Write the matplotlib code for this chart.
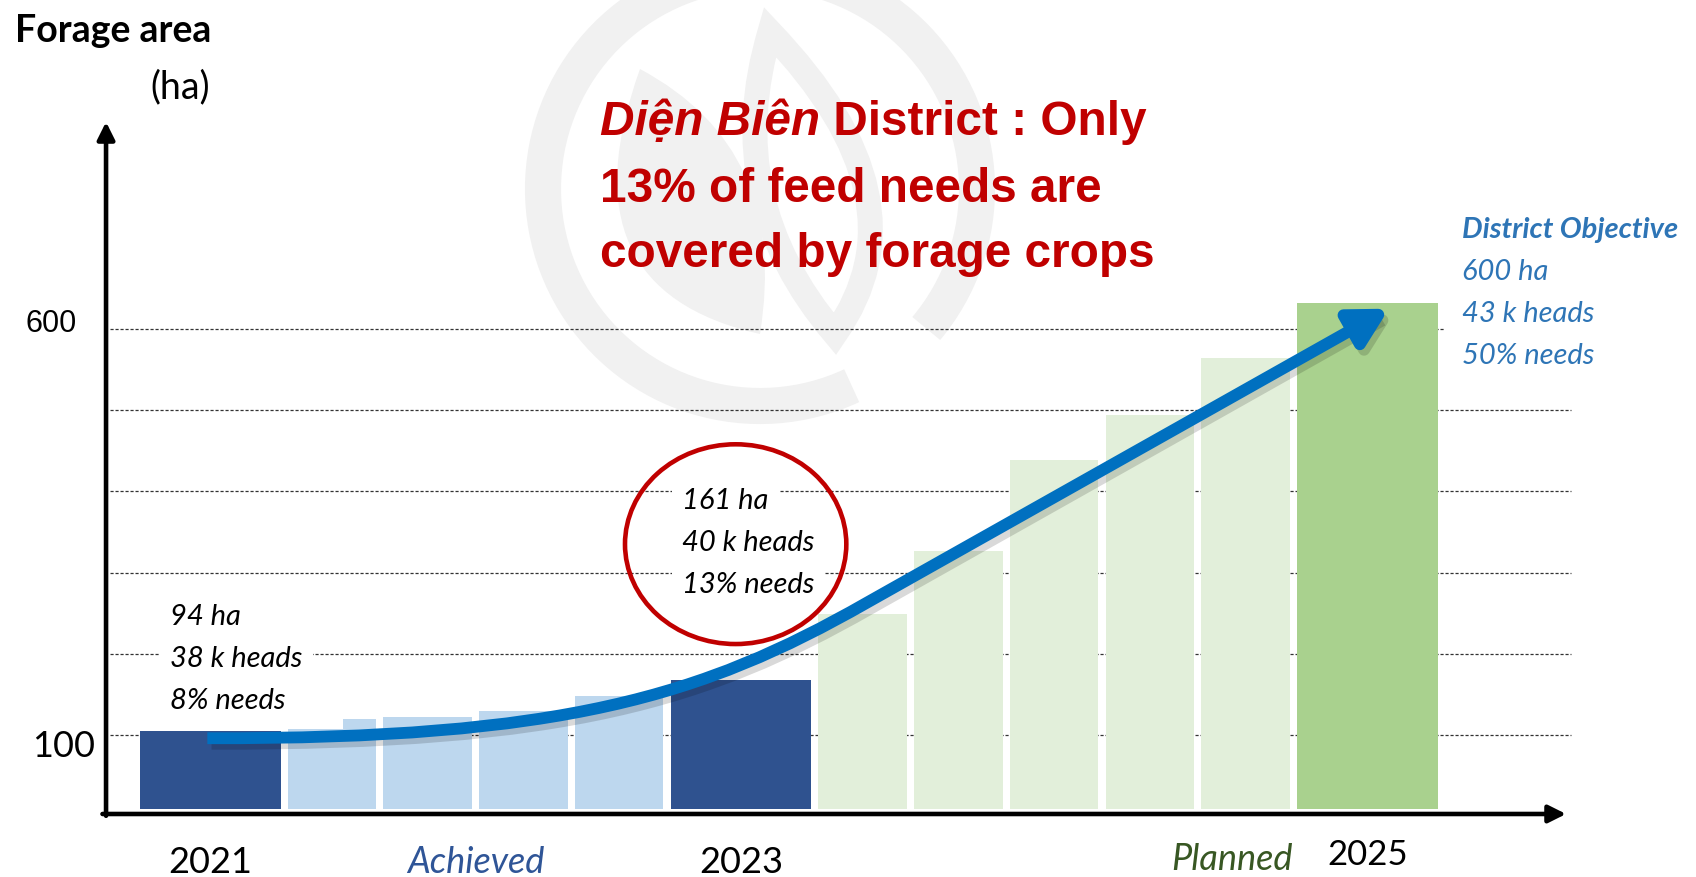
import numpy as np
import matplotlib.pyplot as plt
from matplotlib.patches import Ellipse, Arc, PathPatch, FancyArrowPatch
from matplotlib.path import Path
import matplotlib.patheffects as pe

# bars, left to right (forage area in ha)
kinds = ['key', 'achieved', 'achieved', 'achieved', 'achieved', 'key',
         'planned', 'planned', 'planned', 'planned', 'planned', 'objective']
area = [105, 107, 122, 129, 148, 168, 249, 326, 439, 494, 564, 632]
step_area = 120  # small raised strip on the first light-blue bar

year_labels = {0: '2021', 5: '2023', 11: '2025'}
gridlines = [100, 200, 300, 400, 500, 600]

start_note = ['94 ha', '38 k heads', '8% needs']
mid_note = ['161 ha', '40 k heads', '13% needs']
goal_note = ['District Objective', '600 ha', '43 k heads', '50% needs']
title_lines = ['13% of feed needs are', 'covered by forage crops']

# trend arrow (hand drawn in the original): bezier controls then tip
trend_x = [0.70, 4.39, 5.85, 7.54, 12.98]
trend_y = [96, 95, 148, 262, 625]

colors = {'key': '#2F528F', 'achieved': '#BDD7EE',
          'planned': '#E2EFDA', 'objective': '#A9D18E'}

widths = np.array([1.46 if k in ('key', 'objective') else 0.92 for k in kinds])
lefts = np.concatenate([[0], np.cumsum(widths + 0.075)[:-1]])
centers = lefts + widths / 2
base = 9

fig = plt.figure(figsize=(16.96, 8.78), dpi=100)

# faint logo watermark in pixel space
bg = fig.add_axes([0, 0, 1, 1], zorder=-1)
bg.set_xlim(0, 1696)
bg.set_ylim(0, 878)
bg.axis('off')
wm = '#F1F1F1'
bg.add_patch(Arc((760, 688), 434, 434, theta1=-40, theta2=295, lw=26, color=wm))
leafA = Path([(640, 808), (560, 588), (760, 543), (790, 728), (640, 808), (640, 808)],
             [Path.MOVETO, Path.CURVE3, Path.CURVE3, Path.CURVE3, Path.CURVE3, Path.CLOSEPOLY])
leafB = Path([(770, 845), (720, 678), (835, 543), (930, 678), (770, 845), (770, 845)],
             [Path.MOVETO, Path.CURVE3, Path.CURVE3, Path.CURVE3, Path.CURVE3, Path.CLOSEPOLY])
bg.add_patch(PathPatch(leafA, fc=wm, ec='none'))
bg.add_patch(PathPatch(leafB, fc='none', ec=wm, lw=18))

ax = fig.add_axes([0, 0, 1, 1])
ax.set_xlim(-1.455, 16.17)
ax.set_ylim(-74.9, 1006.4)
ax.axis('off')

# dotted guide lines
for g in gridlines:
    x_end = lefts[-1] + widths[-1] + 0.08 if g == 600 else 14.87
    ax.plot([-0.31, x_end], [g, g], ls=(0, (2.5, 1.5)), lw=0.9, color='#333333', zorder=1)

ax.bar(lefts, np.array(area) - base, width=widths, bottom=base, align='edge',
       color=[colors[k] for k in kinds], zorder=3)
ax.bar(lefts[1] + widths[1] - 0.345, step_area - base, width=0.345, bottom=base,
       align='edge', color=colors['achieved'], zorder=3)

# axis arrows
axis_kw = dict(arrowstyle='-|>', lw=3.3, color='black', mutation_scale=26, shrinkA=0, shrinkB=0)
ax.annotate('', xy=(-0.353, 855), xytext=(-0.353, 0.5), arrowprops=axis_kw, zorder=6)
ax.annotate('', xy=(14.82, 2.7), xytext=(-0.39, 2.7), arrowprops=axis_kw, zorder=6)

ax.text(-1.299, 954.7, 'Forage area', family='Lato', weight='bold', fontsize=27, va='baseline')
ax.text(0.728, 885.7, '(ha)', family='Lato', fontsize=27, ha='right', va='baseline')
ax.text(-0.92, 597.5, '600', family='Liberation Sans', fontsize=22, ha='center', va='baseline')
ax.text(-0.795, 74, '100', family='Lato', fontsize=26, ha='center', va='baseline')

for i, lab in year_labels.items():
    yb = -58.9 if i == 11 else -68.7
    ax.text(centers[i], yb, lab, family='Lato', fontsize=26 if i != 11 else 25,
            ha='center', va='baseline')
ax.text(centers[1:5].mean(), -68.7, 'Achieved', family='Lato', style='italic',
        fontsize=26, color='#2F5597', ha='center', va='baseline')
ax.text(lefts[11] - 0.05, -64.5, 'Planned', family='Lato', style='italic',
        fontsize=26, color='#385723', ha='right', va='baseline')

# red headline
tfam = ['Liberation Sans', 'DejaVu Sans']
tsize = 34.4
t1 = ax.text(4.782, 840.1, 'Diện Biên', family=tfam, weight='bold', style='italic',
             fontsize=tsize, color='#C00000', va='baseline', zorder=5)
ax.annotate(' District : Only', xy=(1, 0), xycoords=t1, va='bottom', family=tfam,
            weight='bold', fontsize=tsize, color='#C00000', zorder=5)
for k, line in enumerate(title_lines):
    ax.text(4.782, 758.0 - k * 80.1, line, family=tfam, weight='bold', fontsize=tsize,
            color='#C00000', va='baseline', zorder=5)

# notes
box = dict(boxstyle='square,pad=0.35', fc='white', ec='none')
step = 51.7
for k, line in enumerate(start_note):
    ax.text(0.312, 236.7 - k * step, line, family='Lato', style='italic', fontsize=21,
            va='baseline', bbox=box, zorder=2)
for k, line in enumerate(mid_note):
    ax.text(5.634, 379.6 - k * step, line, family='Lato', style='italic', fontsize=21,
            va='baseline', bbox=box, zorder=2)
for k, line in enumerate(goal_note):
    ax.text(13.74, 713.7 - k * step, line, family='Lato', style='italic', fontsize=21,
            weight='bold' if k == 0 else 'normal', color='#2E75B6', va='baseline')

ax.add_patch(Ellipse((centers[5] - 0.055, 335), 2.3, 246, fill=False,
                     ec='#C00000', lw=3.3, zorder=4))

# blue trend arrow
verts = list(zip(trend_x, trend_y))
trend = Path(verts, [Path.MOVETO, Path.CURVE4, Path.CURVE4, Path.CURVE4, Path.LINETO])
arrow = FancyArrowPatch(path=trend, arrowstyle='-|>,head_length=0.55,head_width=0.3',
                        mutation_scale=40, lw=8.5, color='#0070C0', zorder=5,
                        capstyle='butt', joinstyle='round')
arrow.set_path_effects([pe.SimpleLineShadow(offset=(3, -4), shadow_color='black', alpha=0.15),
                        pe.Normal()])
ax.add_patch(arrow)

fig.savefig('out.png', dpi=100, facecolor='white')
